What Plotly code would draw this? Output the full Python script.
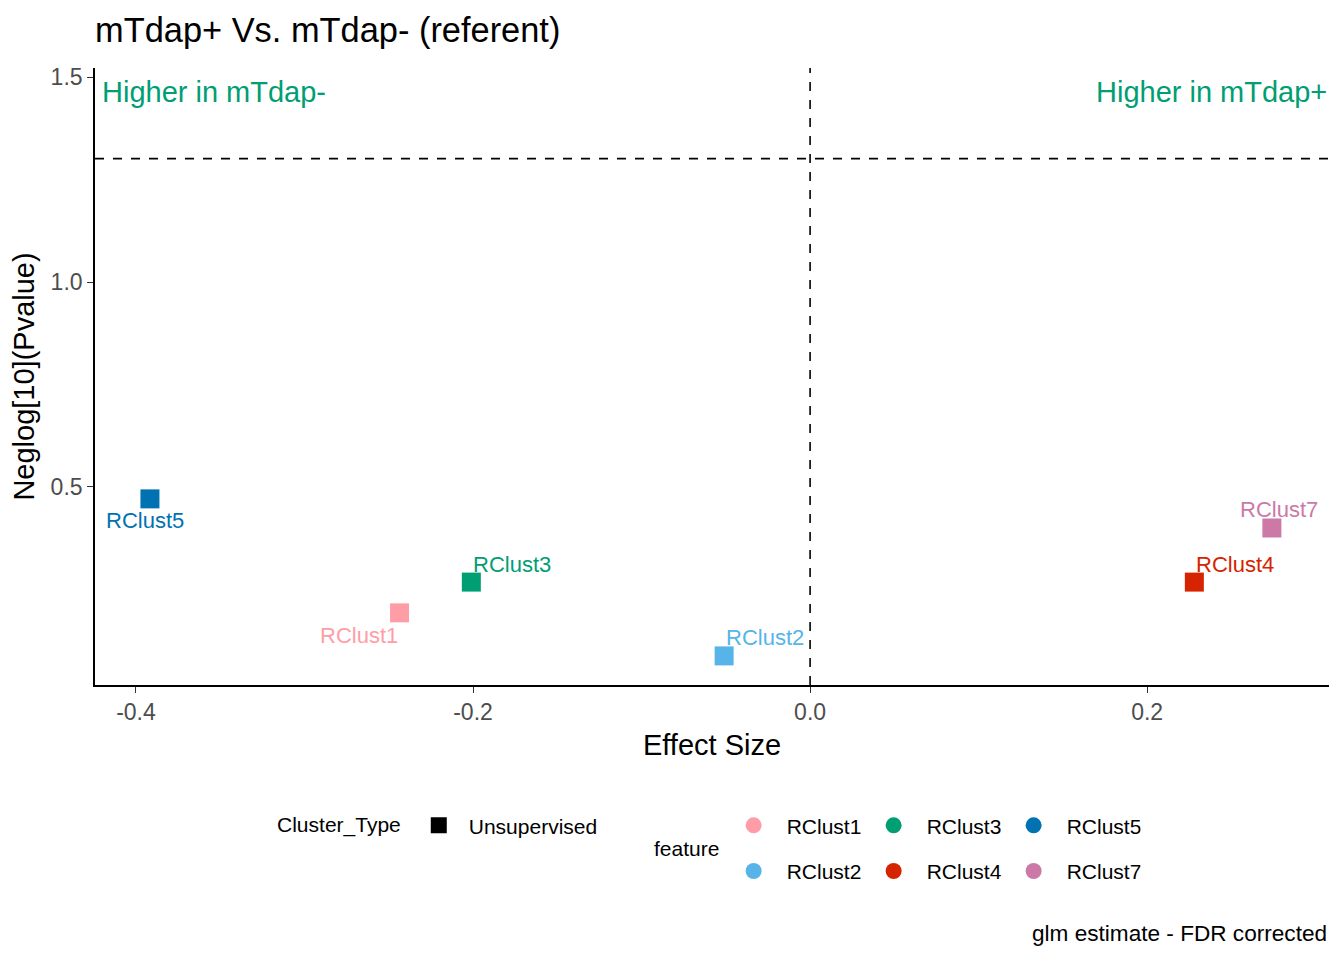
import plotly.graph_objects as go

features = ["RClust1", "RClust2", "RClust3", "RClust4", "RClust5", "RClust7"]
effect_size = [-0.2436, -0.0510, -0.2010, 0.2280, -0.3917, 0.2740]
neglog_p = [0.193, 0.088, 0.268, 0.268, 0.471, 0.400]
colors = ["#FF9DA7", "#56B4E9", "#009E73", "#D62300", "#0072B2", "#CC79A7"]
# label offsets (px) mimicking ggrepel placement
label_dx = [-41, 41, 41, 41, -5, 7]
label_dy = [-23, 18, 18, 18, -22, 18]

x_ticks = [-0.4, -0.2, 0.0, 0.2]
y_ticks = [0.5, 1.0, 1.5]
sig_line = 1.301
x_range = [-0.4243, 0.3079]
y_range = [0.017, 1.522]

FONT = "Liberation Sans, Arial, sans-serif"
W, H = 1336, 952

fig = go.Figure()

for f, x, y, c in zip(features, effect_size, neglog_p, colors):
    fig.add_trace(go.Scatter(
        x=[x], y=[y], mode="markers", name=f,
        marker=dict(symbol="square", size=19, color=c),
        showlegend=False, hoverinfo="text", text=f,
    ))

for f, x, y, c, dx, dy in zip(features, effect_size, neglog_p, colors, label_dx, label_dy):
    fig.add_annotation(x=x, y=y, text=f, showarrow=False, xshift=dx, yshift=dy,
                       font=dict(family=FONT, size=22, color=c))

# legends
fig.add_trace(go.Scatter(x=[None], y=[None], mode="markers", name="Unsupervised",
                         marker=dict(symbol="square", size=16, color="black"),
                         legend="legend", showlegend=True))
row1 = [0, 2, 4]
row2 = [1, 3, 5]
for i in row1:
    fig.add_trace(go.Scatter(x=[None], y=[None], mode="markers", name=features[i],
                             marker=dict(symbol="circle", size=18, color=colors[i]),
                             legend="legend2", showlegend=True))
for i in row2:
    fig.add_trace(go.Scatter(x=[None], y=[None], mode="markers", name=features[i],
                             marker=dict(symbol="circle", size=18, color=colors[i]),
                             legend="legend3", showlegend=True))

fig.add_shape(type="line", xref="x", yref="paper", x0=0, x1=0, y0=0, y1=1,
              line=dict(color="black", width=1.6, dash="dash"))
fig.add_shape(type="line", xref="paper", yref="y", x0=0, x1=1, y0=sig_line, y1=sig_line,
              line=dict(color="black", width=1.6, dash="dash"))

fig.add_annotation(xref="paper", yref="y", x=0.004, y=1.463, xanchor="left", yanchor="middle",
                   text="Higher in mTdap-", showarrow=False,
                   font=dict(family=FONT, size=29, color="#009E73"))
fig.add_annotation(xref="paper", yref="y", x=1.0, y=1.463, xanchor="right", yanchor="middle",
                   text="Higher in mTdap+", showarrow=False,
                   font=dict(family=FONT, size=29, color="#009E73"))
fig.add_annotation(xref="paper", yref="paper", x=1.0, y=-0.402, xanchor="right", yanchor="middle",
                   text="glm estimate - FDR corrected", showarrow=False,
                   font=dict(family=FONT, size=22.6, color="black"))
fig.add_annotation(xref="paper", yref="paper", x=0.4514, y=-0.265, xanchor="left", yanchor="middle",
                   text="feature", showarrow=False,
                   font=dict(family=FONT, size=21, color="black"))

fig.update_layout(
    width=W, height=H,
    paper_bgcolor="white", plot_bgcolor="white",
    margin=dict(l=87, r=15, t=60, b=275),
    title=dict(text="mTdap+ Vs. mTdap- (referent)", x=87/W, xanchor="left",
               y=1 - 22/H, yanchor="middle",
               font=dict(family=FONT, size=34.4, color="black")),
    font=dict(family=FONT, color="black"),
    xaxis=dict(range=x_range, tickvals=x_ticks, ticktext=[f"{v:.1f}" for v in x_ticks],
               showgrid=False, zeroline=False, showline=True, linecolor="black", linewidth=1.6,
               ticks="outside", ticklen=6, tickcolor="#333333", tickwidth=1.3, automargin=False,
               tickfont=dict(family=FONT, size=23, color="#4D4D4D"),
               title=dict(text="Effect Size", font=dict(family=FONT, size=29, color="black"), standoff=10)),
    yaxis=dict(range=y_range, tickvals=y_ticks, ticktext=[f"{v:.1f}" for v in y_ticks],
               showgrid=False, zeroline=False, showline=True, linecolor="black", linewidth=1.6,
               ticks="outside", ticklen=6, tickcolor="#333333", tickwidth=1.3, automargin=False,
               tickfont=dict(family=FONT, size=23, color="#4D4D4D"),
               title=dict(text="Neglog[10](Pvalue)", font=dict(family=FONT, size=29, color="black"), standoff=12)),
    legend=dict(orientation="h", x=0.1459, xanchor="left", y=-0.228, yanchor="middle",
                title=dict(text="Cluster_Type", side="left", font=dict(family=FONT, size=21)),
                font=dict(family=FONT, size=21), itemwidth=50, bgcolor="rgba(0,0,0,0)"),
    legend2=dict(orientation="h", x=0.507, xanchor="left", y=-0.228, yanchor="middle",
                 font=dict(family=FONT, size=21), itemwidth=56, entrywidth=69, entrywidthmode="pixels",
                 bgcolor="rgba(0,0,0,0)"),
    legend3=dict(orientation="h", x=0.507, xanchor="left", y=-0.302, yanchor="middle",
                 font=dict(family=FONT, size=21), itemwidth=56, entrywidth=69, entrywidthmode="pixels",
                 bgcolor="rgba(0,0,0,0)"),
)

fig.write_html("out.html")
